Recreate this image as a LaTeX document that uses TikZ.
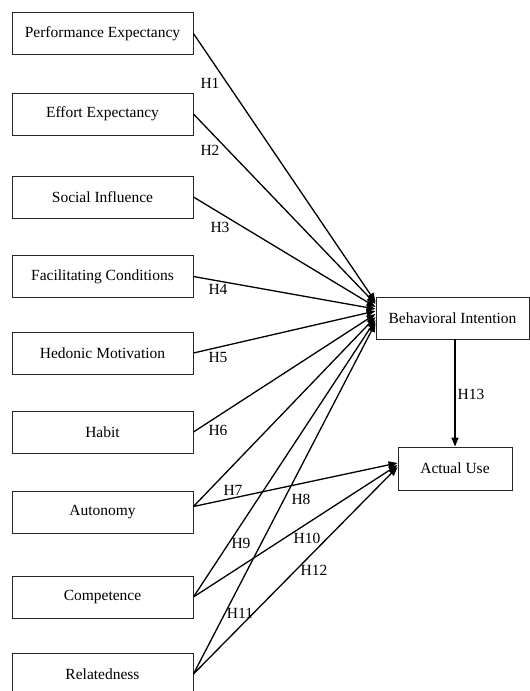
\documentclass[tikz,border=0pt]{standalone}
\usepackage{fontspec}
\setmainfont{Liberation Serif}
\usetikzlibrary{arrows.meta}
\begin{document}
\begin{tikzpicture}[x=1pt,y=-1pt,
  box/.style={draw=black!85, line width=0.9pt, minimum width=181pt, minimum height=42pt, inner sep=0pt, font=\fontsize{15.5}{18}\selectfont},
  lab/.style={inner sep=0pt, font=\fontsize{15.5}{18}\selectfont},
  conn/.style={line width=1.3pt, -{Triangle[length=9pt,width=7pt]}}]
\useasboundingbox (0,0) rectangle (530,691);
\node[box] (pe) at (102.5,33.5) {Performance Expectancy};
\node[box] (ee) at (102.5,114) {Effort Expectancy};
\node[box] (si) at (102.5,197) {Social Influence};
\node[box] (fc) at (102.5,276.5) {Facilitating Conditions};
\node[box] (hm) at (102.5,353) {Hedonic Motivation};
\node[box] (hb) at (102.5,432) {Habit};
\node[box] (au1) at (102.5,512.5) {Autonomy};
\node[box] (co) at (102.5,597) {Competence};
\node[box] (re) at (102.5,674) {Relatedness};
\node[box, minimum width=153pt] (bi) at (452.5,318) {Behavioral Intention};
\node[box, minimum width=114pt, minimum height=43pt] (use) at (455,468.5) {Actual Use};

\draw[conn] (pe.east) -- ([yshift=16pt]bi.west);
\draw[conn] (ee.east) -- ([yshift=14pt]bi.west);
\draw[conn] (si.east) -- ([yshift=11pt]bi.west);
\draw[conn] (fc.east) -- ([yshift=9pt]bi.west);
\draw[conn] (hm.east) -- ([yshift=7pt]bi.west);
\draw[conn] (hb.east) -- ([yshift=4pt]bi.west);
\draw[conn] ([yshift=6pt]au1.east) -- ([yshift=1pt]bi.west);
\draw[conn] (co.east) -- ([yshift=-2pt]bi.west);
\draw[conn] (re.east) -- ([yshift=-5pt]bi.west);
\draw[conn] ([yshift=6pt]au1.east) -- ([yshift=5.5pt]use.west);
\draw[conn] (co.east) -- ([yshift=3.5pt]use.west);
\draw[conn] (re.east) -- ([yshift=1.5pt]use.west);
\draw[conn] (use.north |- bi.south) -- (use.north);

\node[lab] (h1) at (210,83) {H1};
\node[lab] (h2) at (210,150) {H2};
\node[lab] (h3) at (220,227) {H3};
\node[lab] (h4) at (218,289) {H4};
\node[lab] (h5) at (218,357) {H5};
\node[lab] (h6) at (218,430) {H6};
\node[lab] (h7) at (233,490) {H7};
\node[lab] (h8) at (301,499) {H8};
\node[lab] (h9) at (241,543) {H9};
\node[lab] (h10) at (307,538) {H10};
\node[lab] (h11) at (240,613) {H11};
\node[lab] (h12) at (314,570) {H12};
\node[lab] (h13) at (471,394) {H13};
\end{tikzpicture}
\end{document}
